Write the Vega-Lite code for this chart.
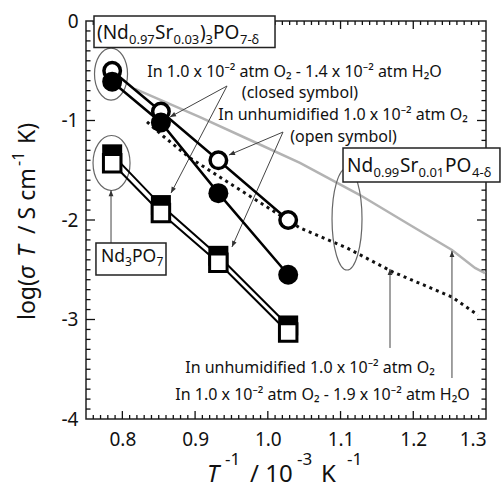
{
  "$schema": "https://vega.github.io/schema/vega-lite/v6.json",
  "width": 400,
  "height": 398,
  "autosize": "none",
  "padding": {"left": 86, "top": 21, "right": 15, "bottom": 69},
  "background": "white",
  "config": {
    "view": {"stroke": "#222", "strokeWidth": 1.5},
    "font": "Noto Sans",
    "text": {"font": "Noto Sans"}
  },
  "datasets": {
    "points": [
      {"x": 0.786, "y": -0.61, "compound": "(Nd0.97Sr0.03)3PO7-δ", "atmosphere": "humidified"},
      {"x": 0.853, "y": -1.02, "compound": "(Nd0.97Sr0.03)3PO7-δ", "atmosphere": "humidified"},
      {"x": 0.932, "y": -1.73, "compound": "(Nd0.97Sr0.03)3PO7-δ", "atmosphere": "humidified"},
      {"x": 1.028, "y": -2.55, "compound": "(Nd0.97Sr0.03)3PO7-δ", "atmosphere": "humidified"},
      {"x": 0.786, "y": -0.50, "compound": "(Nd0.97Sr0.03)3PO7-δ", "atmosphere": "unhumidified"},
      {"x": 0.853, "y": -0.91, "compound": "(Nd0.97Sr0.03)3PO7-δ", "atmosphere": "unhumidified"},
      {"x": 0.932, "y": -1.40, "compound": "(Nd0.97Sr0.03)3PO7-δ", "atmosphere": "unhumidified"},
      {"x": 1.028, "y": -2.00, "compound": "(Nd0.97Sr0.03)3PO7-δ", "atmosphere": "unhumidified"},
      {"x": 0.786, "y": -1.34, "compound": "Nd3PO7", "atmosphere": "humidified"},
      {"x": 0.853, "y": -1.85, "compound": "Nd3PO7", "atmosphere": "humidified"},
      {"x": 0.932, "y": -2.36, "compound": "Nd3PO7", "atmosphere": "humidified"},
      {"x": 1.028, "y": -3.06, "compound": "Nd3PO7", "atmosphere": "humidified"},
      {"x": 0.786, "y": -1.43, "compound": "Nd3PO7", "atmosphere": "unhumidified"},
      {"x": 0.853, "y": -1.93, "compound": "Nd3PO7", "atmosphere": "unhumidified"},
      {"x": 0.932, "y": -2.43, "compound": "Nd3PO7", "atmosphere": "unhumidified"},
      {"x": 1.028, "y": -3.13, "compound": "Nd3PO7", "atmosphere": "unhumidified"}
    ],
    "curves": [
      {"x": 0.8174, "y": -0.683, "atmosphere": "humidified"},
      {"x": 0.9067, "y": -0.965, "atmosphere": "humidified"},
      {"x": 0.9755, "y": -1.196, "atmosphere": "humidified"},
      {"x": 1.0442, "y": -1.427, "atmosphere": "humidified"},
      {"x": 1.1267, "y": -1.749, "atmosphere": "humidified"},
      {"x": 1.1955, "y": -2.050, "atmosphere": "humidified"},
      {"x": 1.2532, "y": -2.302, "atmosphere": "humidified"},
      {"x": 1.2849, "y": -2.482, "atmosphere": "humidified"},
      {"x": 1.2986, "y": -2.533, "atmosphere": "humidified"},
      {"x": 0.8339, "y": -1.015, "atmosphere": "unhumidified"},
      {"x": 0.8559, "y": -1.156, "atmosphere": "unhumidified"},
      {"x": 0.8930, "y": -1.377, "atmosphere": "unhumidified"},
      {"x": 0.9576, "y": -1.678, "atmosphere": "unhumidified"},
      {"x": 1.0442, "y": -2.080, "atmosphere": "unhumidified"},
      {"x": 1.1089, "y": -2.281, "atmosphere": "unhumidified"},
      {"x": 1.1721, "y": -2.523, "atmosphere": "unhumidified"},
      {"x": 1.2532, "y": -2.774, "atmosphere": "unhumidified"},
      {"x": 1.2890, "y": -2.955, "atmosphere": "unhumidified"}
    ],
    "vticks": [
      {"x": 0.8, "y": -4, "y2": -3.92}, {"x": 0.9, "y": -4, "y2": -3.92}, {"x": 1.0, "y": -4, "y2": -3.92}, {"x": 1.1, "y": -4, "y2": -3.92}, {"x": 1.2, "y": -4, "y2": -3.92},
      {"x": 0.8, "y": 0, "y2": -0.08}, {"x": 0.9, "y": 0, "y2": -0.08}, {"x": 1.0, "y": 0, "y2": -0.08}, {"x": 1.1, "y": 0, "y2": -0.08}, {"x": 1.2, "y": 0, "y2": -0.08},
      {"x": 0.76, "y": -4, "y2": -3.96}, {"x": 0.77, "y": -4, "y2": -3.96}, {"x": 0.78, "y": -4, "y2": -3.96}, {"x": 0.79, "y": -4, "y2": -3.96},
      {"x": 0.81, "y": -4, "y2": -3.96}, {"x": 0.82, "y": -4, "y2": -3.96}, {"x": 0.83, "y": -4, "y2": -3.96}, {"x": 0.84, "y": -4, "y2": -3.96}, {"x": 0.85, "y": -4, "y2": -3.96}, {"x": 0.86, "y": -4, "y2": -3.96}, {"x": 0.87, "y": -4, "y2": -3.96}, {"x": 0.88, "y": -4, "y2": -3.96}, {"x": 0.89, "y": -4, "y2": -3.96},
      {"x": 0.91, "y": -4, "y2": -3.96}, {"x": 0.92, "y": -4, "y2": -3.96}, {"x": 0.93, "y": -4, "y2": -3.96}, {"x": 0.94, "y": -4, "y2": -3.96}, {"x": 0.95, "y": -4, "y2": -3.96}, {"x": 0.96, "y": -4, "y2": -3.96}, {"x": 0.97, "y": -4, "y2": -3.96}, {"x": 0.98, "y": -4, "y2": -3.96}, {"x": 0.99, "y": -4, "y2": -3.96},
      {"x": 1.01, "y": -4, "y2": -3.96}, {"x": 1.02, "y": -4, "y2": -3.96}, {"x": 1.03, "y": -4, "y2": -3.96}, {"x": 1.04, "y": -4, "y2": -3.96}, {"x": 1.05, "y": -4, "y2": -3.96}, {"x": 1.06, "y": -4, "y2": -3.96}, {"x": 1.07, "y": -4, "y2": -3.96}, {"x": 1.08, "y": -4, "y2": -3.96}, {"x": 1.09, "y": -4, "y2": -3.96},
      {"x": 1.11, "y": -4, "y2": -3.96}, {"x": 1.12, "y": -4, "y2": -3.96}, {"x": 1.13, "y": -4, "y2": -3.96}, {"x": 1.14, "y": -4, "y2": -3.96}, {"x": 1.15, "y": -4, "y2": -3.96}, {"x": 1.16, "y": -4, "y2": -3.96}, {"x": 1.17, "y": -4, "y2": -3.96}, {"x": 1.18, "y": -4, "y2": -3.96}, {"x": 1.19, "y": -4, "y2": -3.96},
      {"x": 1.21, "y": -4, "y2": -3.96}, {"x": 1.22, "y": -4, "y2": -3.96}, {"x": 1.23, "y": -4, "y2": -3.96}, {"x": 1.24, "y": -4, "y2": -3.96}, {"x": 1.25, "y": -4, "y2": -3.96}, {"x": 1.26, "y": -4, "y2": -3.96}, {"x": 1.27, "y": -4, "y2": -3.96}, {"x": 1.28, "y": -4, "y2": -3.96}, {"x": 1.29, "y": -4, "y2": -3.96},
      {"x": 0.76, "y": 0, "y2": -0.04}, {"x": 0.77, "y": 0, "y2": -0.04}, {"x": 0.78, "y": 0, "y2": -0.04}, {"x": 0.79, "y": 0, "y2": -0.04},
      {"x": 0.81, "y": 0, "y2": -0.04}, {"x": 0.82, "y": 0, "y2": -0.04}, {"x": 0.83, "y": 0, "y2": -0.04}, {"x": 0.84, "y": 0, "y2": -0.04}, {"x": 0.85, "y": 0, "y2": -0.04}, {"x": 0.86, "y": 0, "y2": -0.04}, {"x": 0.87, "y": 0, "y2": -0.04}, {"x": 0.88, "y": 0, "y2": -0.04}, {"x": 0.89, "y": 0, "y2": -0.04},
      {"x": 0.91, "y": 0, "y2": -0.04}, {"x": 0.92, "y": 0, "y2": -0.04}, {"x": 0.93, "y": 0, "y2": -0.04}, {"x": 0.94, "y": 0, "y2": -0.04}, {"x": 0.95, "y": 0, "y2": -0.04}, {"x": 0.96, "y": 0, "y2": -0.04}, {"x": 0.97, "y": 0, "y2": -0.04}, {"x": 0.98, "y": 0, "y2": -0.04}, {"x": 0.99, "y": 0, "y2": -0.04},
      {"x": 1.01, "y": 0, "y2": -0.04}, {"x": 1.02, "y": 0, "y2": -0.04}, {"x": 1.03, "y": 0, "y2": -0.04}, {"x": 1.04, "y": 0, "y2": -0.04}, {"x": 1.05, "y": 0, "y2": -0.04}, {"x": 1.06, "y": 0, "y2": -0.04}, {"x": 1.07, "y": 0, "y2": -0.04}, {"x": 1.08, "y": 0, "y2": -0.04}, {"x": 1.09, "y": 0, "y2": -0.04},
      {"x": 1.11, "y": 0, "y2": -0.04}, {"x": 1.12, "y": 0, "y2": -0.04}, {"x": 1.13, "y": 0, "y2": -0.04}, {"x": 1.14, "y": 0, "y2": -0.04}, {"x": 1.15, "y": 0, "y2": -0.04}, {"x": 1.16, "y": 0, "y2": -0.04}, {"x": 1.17, "y": 0, "y2": -0.04}, {"x": 1.18, "y": 0, "y2": -0.04}, {"x": 1.19, "y": 0, "y2": -0.04},
      {"x": 1.21, "y": 0, "y2": -0.04}, {"x": 1.22, "y": 0, "y2": -0.04}, {"x": 1.23, "y": 0, "y2": -0.04}, {"x": 1.24, "y": 0, "y2": -0.04}, {"x": 1.25, "y": 0, "y2": -0.04}, {"x": 1.26, "y": 0, "y2": -0.04}, {"x": 1.27, "y": 0, "y2": -0.04}, {"x": 1.28, "y": 0, "y2": -0.04}, {"x": 1.29, "y": 0, "y2": -0.04}
    ],
    "hticks": [
      {"y": -3, "x": 0.75, "x2": 0.7624}, {"y": -2, "x": 0.75, "x2": 0.7624}, {"y": -1, "x": 0.75, "x2": 0.7624},
      {"y": -3, "x": 1.3, "x2": 1.2876}, {"y": -2, "x": 1.3, "x2": 1.2876}, {"y": -1, "x": 1.3, "x2": 1.2876},
      {"y": -3.9, "x": 0.75, "x2": 0.7562}, {"y": -3.8, "x": 0.75, "x2": 0.7562}, {"y": -3.7, "x": 0.75, "x2": 0.7562}, {"y": -3.6, "x": 0.75, "x2": 0.7562}, {"y": -3.5, "x": 0.75, "x2": 0.7562}, {"y": -3.4, "x": 0.75, "x2": 0.7562}, {"y": -3.3, "x": 0.75, "x2": 0.7562}, {"y": -3.2, "x": 0.75, "x2": 0.7562}, {"y": -3.1, "x": 0.75, "x2": 0.7562},
      {"y": -2.9, "x": 0.75, "x2": 0.7562}, {"y": -2.8, "x": 0.75, "x2": 0.7562}, {"y": -2.7, "x": 0.75, "x2": 0.7562}, {"y": -2.6, "x": 0.75, "x2": 0.7562}, {"y": -2.5, "x": 0.75, "x2": 0.7562}, {"y": -2.4, "x": 0.75, "x2": 0.7562}, {"y": -2.3, "x": 0.75, "x2": 0.7562}, {"y": -2.2, "x": 0.75, "x2": 0.7562}, {"y": -2.1, "x": 0.75, "x2": 0.7562},
      {"y": -1.9, "x": 0.75, "x2": 0.7562}, {"y": -1.8, "x": 0.75, "x2": 0.7562}, {"y": -1.7, "x": 0.75, "x2": 0.7562}, {"y": -1.6, "x": 0.75, "x2": 0.7562}, {"y": -1.5, "x": 0.75, "x2": 0.7562}, {"y": -1.4, "x": 0.75, "x2": 0.7562}, {"y": -1.3, "x": 0.75, "x2": 0.7562}, {"y": -1.2, "x": 0.75, "x2": 0.7562}, {"y": -1.1, "x": 0.75, "x2": 0.7562},
      {"y": -0.9, "x": 0.75, "x2": 0.7562}, {"y": -0.8, "x": 0.75, "x2": 0.7562}, {"y": -0.7, "x": 0.75, "x2": 0.7562}, {"y": -0.6, "x": 0.75, "x2": 0.7562}, {"y": -0.5, "x": 0.75, "x2": 0.7562}, {"y": -0.4, "x": 0.75, "x2": 0.7562}, {"y": -0.3, "x": 0.75, "x2": 0.7562}, {"y": -0.2, "x": 0.75, "x2": 0.7562}, {"y": -0.1, "x": 0.75, "x2": 0.7562},
      {"y": -3.9, "x": 1.3, "x2": 1.2938}, {"y": -3.8, "x": 1.3, "x2": 1.2938}, {"y": -3.7, "x": 1.3, "x2": 1.2938}, {"y": -3.6, "x": 1.3, "x2": 1.2938}, {"y": -3.5, "x": 1.3, "x2": 1.2938}, {"y": -3.4, "x": 1.3, "x2": 1.2938}, {"y": -3.3, "x": 1.3, "x2": 1.2938}, {"y": -3.2, "x": 1.3, "x2": 1.2938}, {"y": -3.1, "x": 1.3, "x2": 1.2938},
      {"y": -2.9, "x": 1.3, "x2": 1.2938}, {"y": -2.8, "x": 1.3, "x2": 1.2938}, {"y": -2.7, "x": 1.3, "x2": 1.2938}, {"y": -2.6, "x": 1.3, "x2": 1.2938}, {"y": -2.5, "x": 1.3, "x2": 1.2938}, {"y": -2.4, "x": 1.3, "x2": 1.2938}, {"y": -2.3, "x": 1.3, "x2": 1.2938}, {"y": -2.2, "x": 1.3, "x2": 1.2938}, {"y": -2.1, "x": 1.3, "x2": 1.2938},
      {"y": -1.9, "x": 1.3, "x2": 1.2938}, {"y": -1.8, "x": 1.3, "x2": 1.2938}, {"y": -1.7, "x": 1.3, "x2": 1.2938}, {"y": -1.6, "x": 1.3, "x2": 1.2938}, {"y": -1.5, "x": 1.3, "x2": 1.2938}, {"y": -1.4, "x": 1.3, "x2": 1.2938}, {"y": -1.3, "x": 1.3, "x2": 1.2938}, {"y": -1.2, "x": 1.3, "x2": 1.2938}, {"y": -1.1, "x": 1.3, "x2": 1.2938},
      {"y": -0.9, "x": 1.3, "x2": 1.2938}, {"y": -0.8, "x": 1.3, "x2": 1.2938}, {"y": -0.7, "x": 1.3, "x2": 1.2938}, {"y": -0.6, "x": 1.3, "x2": 1.2938}, {"y": -0.5, "x": 1.3, "x2": 1.2938}, {"y": -0.4, "x": 1.3, "x2": 1.2938}, {"y": -0.3, "x": 1.3, "x2": 1.2938}, {"y": -0.2, "x": 1.3, "x2": 1.2938}, {"y": -0.1, "x": 1.3, "x2": 1.2938}
    ],
    "ellipses": [
      {"name": "Sr-doped", "x": 0.7844, "y": -0.533},
      {"name": "Nd3PO7", "x": 0.7851, "y": -1.427},
      {"name": "Nd0.99Sr0.01PO4", "x": 1.1089, "y": -1.990}
    ],
    "arrows": [
      {"name": "closed-circle", "x": 0.9439, "y": -0.653, "x2": 0.8655, "y2": -0.965},
      {"name": "closed-square", "x": 0.9439, "y": -0.653, "x2": 0.8669, "y2": -1.729},
      {"name": "open-circle", "x": 1.0209, "y": -1.116, "x2": 0.9466, "y2": -1.347},
      {"name": "open-square", "x": 1.0209, "y": -1.116, "x2": 0.9507, "y2": -2.271},
      {"name": "Nd3PO7", "x": 0.7844, "y": -2.231, "x2": 0.7844, "y2": -1.700},
      {"name": "unhumidified", "x": 1.168, "y": -3.286, "x2": 1.168, "y2": -2.492},
      {"name": "humidified", "x": 1.2532, "y": -3.588, "x2": 1.2532, "y2": -2.312}
    ],
    "boxes": [
      {"name": "A", "x": 0.7610, "x2": 1.0099, "y": 0.0503, "y2": -0.266},
      {"name": "B", "x": 0.7637, "x2": 0.8600, "y": -2.231, "y2": -2.553},
      {"name": "C", "x": 1.1034, "x2": 1.3192, "y": -1.276, "y2": -1.618}
    ],
    "boxlabels": [
      {"name": "A", "x": 0.7651, "y": -0.181},
      {"name": "B", "x": 0.7706, "y": -2.422},
      {"name": "C", "x": 1.1089, "y": -1.5176},
      {"name": "xtitle", "x": 0.9164, "y": -4.633},
      {"name": "ytitle", "x": 0.6799, "y": -3.005}
    ],
    "notes": [
      {"label": "In 1.0 x 10⁻² atm O₂ - 1.4 x 10⁻² atm H₂O", "x": 1.0367, "y": -0.513},
      {"label": "(closed symbol)", "x": 1.0442, "y": -0.724},
      {"label": "In unhumidified 1.0 x 10⁻² atm O₂", "x": 1.1034, "y": -0.945},
      {"label": "(open symbol)", "x": 1.1041, "y": -1.166},
      {"label": "In unhumidified 1.0 x 10⁻² atm O₂", "x": 1.058, "y": -3.487},
      {"label": "In 1.0 x 10⁻² atm O₂ - 1.9 x 10⁻² atm H₂O", "x": 1.0752, "y": -3.759}
    ]
  },
  "resolve": {"axis": {"x": "independent", "y": "independent"}},
  "layer": [
    {
      "data": {"name": "curves"},
      "transform": [{"filter": "datum.atmosphere == 'humidified'"}],
      "mark": {"type": "line", "color": "#b3b3b3", "strokeWidth": 2.5},
      "encoding": {
        "x": {"field": "x", "type": "quantitative", "scale": {"domain": [0.75, 1.3], "nice": false, "zero": false},
          "axis": {"orient": "bottom", "values": [0.8, 0.9, 1.0, 1.1, 1.2, 1.3], "format": ".1f", "ticks": false, "domain": false, "grid": false, "labelFont": "Noto Sans", "labelFontSize": 19, "labelColor": "#111", "labelPadding": 11, "title": null}},
        "y": {"field": "y", "type": "quantitative", "scale": {"domain": [-4, 0], "nice": false, "zero": false},
          "axis": {"orient": "left", "values": [-4, -3, -2, -1, 0], "labelExpr": "datum.value < 0 ? '-' + abs(datum.value) : '0'", "ticks": false, "domain": false, "grid": false, "labelFont": "Noto Sans", "labelFontSize": 19, "labelColor": "#111", "labelPadding": 8, "title": null}}
      }
    },
    {
      "data": {"name": "curves"},
      "transform": [{"filter": "datum.atmosphere == 'unhumidified'"}],
      "mark": {"type": "line", "color": "#111", "strokeWidth": 3, "strokeDash": [3, 4]},
      "encoding": {
        "x": {"field": "x", "type": "quantitative", "scale": {"domain": [0.75, 1.3], "nice": false, "zero": false}, "axis": null},
        "y": {"field": "y", "type": "quantitative", "scale": {"domain": [-4, 0], "nice": false, "zero": false}, "axis": null}
      }
    },
    {
      "data": {"name": "vticks"},
      "mark": {"type": "rule", "color": "#111", "strokeWidth": 1.3},
      "encoding": {
        "x": {"field": "x", "type": "quantitative", "scale": {"domain": [0.75, 1.3], "nice": false, "zero": false}, "axis": null},
        "y": {"field": "y", "type": "quantitative", "scale": {"domain": [-4, 0], "nice": false, "zero": false}, "axis": null},
        "y2": {"field": "y2"}
      }
    },
    {
      "data": {"name": "hticks"},
      "mark": {"type": "rule", "color": "#111", "strokeWidth": 1.3},
      "encoding": {
        "x": {"field": "x", "type": "quantitative", "scale": {"domain": [0.75, 1.3], "nice": false, "zero": false}, "axis": null},
        "x2": {"field": "x2"},
        "y": {"field": "y", "type": "quantitative", "scale": {"domain": [-4, 0], "nice": false, "zero": false}, "axis": null}
      }
    },
    {
      "data": {"name": "ellipses"},
      "transform": [{"filter": "datum.name == 'Sr-doped'"}],
      "mark": {"type": "point", "shape": "M-0.635,0A0.635,1,0,1,0,0.635,0A0.635,1,0,1,0,-0.635,0Z", "size": 2704, "filled": false, "stroke": "#666", "strokeWidth": 1.2, "opacity": 1},
      "encoding": {
        "x": {"field": "x", "type": "quantitative", "scale": {"domain": [0.75, 1.3], "nice": false, "zero": false}, "axis": null},
        "y": {"field": "y", "type": "quantitative", "scale": {"domain": [-4, 0], "nice": false, "zero": false}, "axis": null}
      }
    },
    {
      "data": {"name": "ellipses"},
      "transform": [{"filter": "datum.name == 'Nd3PO7'"}],
      "mark": {"type": "point", "shape": "M-0.673,0A0.673,1,0,1,0,0.673,0A0.673,1,0,1,0,-0.673,0Z", "size": 3025, "filled": false, "stroke": "#666", "strokeWidth": 1.2, "opacity": 1},
      "encoding": {
        "x": {"field": "x", "type": "quantitative", "scale": {"domain": [0.75, 1.3], "nice": false, "zero": false}, "axis": null},
        "y": {"field": "y", "type": "quantitative", "scale": {"domain": [-4, 0], "nice": false, "zero": false}, "axis": null}
      }
    },
    {
      "data": {"name": "ellipses"},
      "transform": [{"filter": "datum.name == 'Nd0.99Sr0.01PO4'"}],
      "mark": {"type": "point", "shape": "M-0.294,0A0.294,1,0,1,0,0.294,0A0.294,1,0,1,0,-0.294,0Z", "size": 10404, "filled": false, "stroke": "#666", "strokeWidth": 1.2, "opacity": 1},
      "encoding": {
        "x": {"field": "x", "type": "quantitative", "scale": {"domain": [0.75, 1.3], "nice": false, "zero": false}, "axis": null},
        "y": {"field": "y", "type": "quantitative", "scale": {"domain": [-4, 0], "nice": false, "zero": false}, "axis": null}
      }
    },
    {
      "data": {"name": "arrows"},
      "mark": {"type": "rule", "color": "#444", "strokeWidth": 1},
      "encoding": {
        "x": {"field": "x", "type": "quantitative", "scale": {"domain": [0.75, 1.3], "nice": false, "zero": false}, "axis": null},
        "y": {"field": "y", "type": "quantitative", "scale": {"domain": [-4, 0], "nice": false, "zero": false}, "axis": null},
        "x2": {"field": "x2"},
        "y2": {"field": "y2"}
      }
    },
    {
      "data": {"name": "arrows"},
      "transform": [{"filter": "datum.name == 'Nd3PO7' || datum.name == 'unhumidified' || datum.name == 'humidified'"}],
      "mark": {"type": "point", "shape": "M0,0L-0.4,1L0.4,1Z", "size": 144, "filled": true, "color": "#333", "opacity": 1, "angle": 0},
      "encoding": {
        "x": {"field": "x2", "type": "quantitative", "scale": {"domain": [0.75, 1.3], "nice": false, "zero": false}, "axis": null},
        "y": {"field": "y2", "type": "quantitative", "scale": {"domain": [-4, 0], "nice": false, "zero": false}, "axis": null}
      }
    },
    {
      "data": {"name": "arrows"},
      "transform": [{"filter": "datum.name == 'closed-circle'"}],
      "mark": {"type": "point", "shape": "M0,0L-0.4,1L0.4,1Z", "size": 144, "filled": true, "color": "#333", "opacity": 1, "angle": 241.5},
      "encoding": {
        "x": {"field": "x2", "type": "quantitative", "scale": {"domain": [0.75, 1.3], "nice": false, "zero": false}, "axis": null},
        "y": {"field": "y2", "type": "quantitative", "scale": {"domain": [-4, 0], "nice": false, "zero": false}, "axis": null}
      }
    },
    {
      "data": {"name": "arrows"},
      "transform": [{"filter": "datum.name == 'closed-square'"}],
      "mark": {"type": "point", "shape": "M0,0L-0.4,1L0.4,1Z", "size": 144, "filled": true, "color": "#333", "opacity": 1, "angle": 207.6},
      "encoding": {
        "x": {"field": "x2", "type": "quantitative", "scale": {"domain": [0.75, 1.3], "nice": false, "zero": false}, "axis": null},
        "y": {"field": "y2", "type": "quantitative", "scale": {"domain": [-4, 0], "nice": false, "zero": false}, "axis": null}
      }
    },
    {
      "data": {"name": "arrows"},
      "transform": [{"filter": "datum.name == 'open-circle'"}],
      "mark": {"type": "point", "shape": "M0,0L-0.4,1L0.4,1Z", "size": 144, "filled": true, "color": "#333", "opacity": 1, "angle": 246.9},
      "encoding": {
        "x": {"field": "x2", "type": "quantitative", "scale": {"domain": [0.75, 1.3], "nice": false, "zero": false}, "axis": null},
        "y": {"field": "y2", "type": "quantitative", "scale": {"domain": [-4, 0], "nice": false, "zero": false}, "axis": null}
      }
    },
    {
      "data": {"name": "arrows"},
      "transform": [{"filter": "datum.name == 'open-square'"}],
      "mark": {"type": "point", "shape": "M0,0L-0.4,1L0.4,1Z", "size": 144, "filled": true, "color": "#333", "opacity": 1, "angle": 203.9},
      "encoding": {
        "x": {"field": "x2", "type": "quantitative", "scale": {"domain": [0.75, 1.3], "nice": false, "zero": false}, "axis": null},
        "y": {"field": "y2", "type": "quantitative", "scale": {"domain": [-4, 0], "nice": false, "zero": false}, "axis": null}
      }
    },
    {
      "data": {"name": "points"},
      "transform": [{"filter": "datum.compound == 'Nd3PO7'"}],
      "mark": {"type": "line", "color": "#000", "strokeWidth": 2},
      "encoding": {
        "x": {"field": "x", "type": "quantitative", "scale": {"domain": [0.75, 1.3], "nice": false, "zero": false}, "axis": null},
        "y": {"field": "y", "type": "quantitative", "scale": {"domain": [-4, 0], "nice": false, "zero": false}, "axis": null},
        "detail": {"field": "atmosphere"}
      }
    },
    {
      "data": {"name": "points"},
      "transform": [{"filter": "datum.compound != 'Nd3PO7'"}],
      "mark": {"type": "line", "color": "#000", "strokeWidth": 2.5},
      "encoding": {
        "x": {"field": "x", "type": "quantitative", "scale": {"domain": [0.75, 1.3], "nice": false, "zero": false}, "axis": null},
        "y": {"field": "y", "type": "quantitative", "scale": {"domain": [-4, 0], "nice": false, "zero": false}, "axis": null},
        "detail": {"field": "atmosphere"}
      }
    },
    {
      "data": {"name": "points"},
      "transform": [{"filter": "datum.compound == 'Nd3PO7' && datum.atmosphere == 'humidified'"}],
      "mark": {"type": "point", "shape": "square", "filled": true, "color": "#000", "size": 400, "opacity": 1},
      "encoding": {
        "x": {"field": "x", "type": "quantitative", "scale": {"domain": [0.75, 1.3], "nice": false, "zero": false}, "axis": null},
        "y": {"field": "y", "type": "quantitative", "scale": {"domain": [-4, 0], "nice": false, "zero": false}, "axis": null}
      }
    },
    {
      "data": {"name": "points"},
      "transform": [{"filter": "datum.compound == 'Nd3PO7' && datum.atmosphere == 'unhumidified'"}],
      "mark": {"type": "point", "shape": "square", "filled": true, "fill": "white", "stroke": "#000", "strokeWidth": 3, "size": 306, "opacity": 1},
      "encoding": {
        "x": {"field": "x", "type": "quantitative", "scale": {"domain": [0.75, 1.3], "nice": false, "zero": false}, "axis": null},
        "y": {"field": "y", "type": "quantitative", "scale": {"domain": [-4, 0], "nice": false, "zero": false}, "axis": null}
      }
    },
    {
      "data": {"name": "points"},
      "transform": [{"filter": "datum.compound != 'Nd3PO7' && datum.atmosphere == 'unhumidified'"}],
      "mark": {"type": "point", "shape": "circle", "filled": true, "fill": "white", "stroke": "#000", "strokeWidth": 3.5, "size": 272, "opacity": 1},
      "encoding": {
        "x": {"field": "x", "type": "quantitative", "scale": {"domain": [0.75, 1.3], "nice": false, "zero": false}, "axis": null},
        "y": {"field": "y", "type": "quantitative", "scale": {"domain": [-4, 0], "nice": false, "zero": false}, "axis": null}
      }
    },
    {
      "data": {"name": "points"},
      "transform": [{"filter": "datum.compound != 'Nd3PO7' && datum.atmosphere == 'humidified'"}],
      "mark": {"type": "point", "shape": "circle", "filled": true, "color": "#000", "size": 400, "opacity": 1},
      "encoding": {
        "x": {"field": "x", "type": "quantitative", "scale": {"domain": [0.75, 1.3], "nice": false, "zero": false}, "axis": null},
        "y": {"field": "y", "type": "quantitative", "scale": {"domain": [-4, 0], "nice": false, "zero": false}, "axis": null}
      }
    },
    {
      "data": {"name": "boxes"},
      "mark": {"type": "rect", "fill": "white", "stroke": "#222", "strokeWidth": 1.5},
      "encoding": {
        "x": {"field": "x", "type": "quantitative", "scale": {"domain": [0.75, 1.3], "nice": false, "zero": false}, "axis": null},
        "y": {"field": "y", "type": "quantitative", "scale": {"domain": [-4, 0], "nice": false, "zero": false}, "axis": null},
        "x2": {"field": "x2"},
        "y2": {"field": "y2"}
      }
    },
    {"data": {"name": "boxlabels"}, "transform": [{"filter": "datum.name == 'A'"}], "mark": {"type": "text", "text": "(Nd", "dx": 0, "dy": 0, "align": "left", "baseline": "alphabetic", "fontSize": 19, "color": "#111"}, "encoding": {"x": {"field": "x", "type": "quantitative", "scale": {"domain": [0.75, 1.3], "nice": false, "zero": false}, "axis": null}, "y": {"field": "y", "type": "quantitative", "scale": {"domain": [-4, 0], "nice": false, "zero": false}, "axis": null}}},
    {"data": {"name": "boxlabels"}, "transform": [{"filter": "datum.name == 'A'"}], "mark": {"type": "text", "text": "0.97", "dx": 32, "dy": 4.5, "align": "left", "baseline": "alphabetic", "fontSize": 13, "color": "#111"}, "encoding": {"x": {"field": "x", "type": "quantitative", "scale": {"domain": [0.75, 1.3], "nice": false, "zero": false}, "axis": null}, "y": {"field": "y", "type": "quantitative", "scale": {"domain": [-4, 0], "nice": false, "zero": false}, "axis": null}}},
    {"data": {"name": "boxlabels"}, "transform": [{"filter": "datum.name == 'A'"}], "mark": {"type": "text", "text": "Sr", "dx": 58, "dy": 0, "align": "left", "baseline": "alphabetic", "fontSize": 19, "color": "#111"}, "encoding": {"x": {"field": "x", "type": "quantitative", "scale": {"domain": [0.75, 1.3], "nice": false, "zero": false}, "axis": null}, "y": {"field": "y", "type": "quantitative", "scale": {"domain": [-4, 0], "nice": false, "zero": false}, "axis": null}}},
    {"data": {"name": "boxlabels"}, "transform": [{"filter": "datum.name == 'A'"}], "mark": {"type": "text", "text": "0.03", "dx": 76.5, "dy": 4.5, "align": "left", "baseline": "alphabetic", "fontSize": 13, "color": "#111"}, "encoding": {"x": {"field": "x", "type": "quantitative", "scale": {"domain": [0.75, 1.3], "nice": false, "zero": false}, "axis": null}, "y": {"field": "y", "type": "quantitative", "scale": {"domain": [-4, 0], "nice": false, "zero": false}, "axis": null}}},
    {"data": {"name": "boxlabels"}, "transform": [{"filter": "datum.name == 'A'"}], "mark": {"type": "text", "text": ")", "dx": 103, "dy": 0, "align": "left", "baseline": "alphabetic", "fontSize": 19, "color": "#111"}, "encoding": {"x": {"field": "x", "type": "quantitative", "scale": {"domain": [0.75, 1.3], "nice": false, "zero": false}, "axis": null}, "y": {"field": "y", "type": "quantitative", "scale": {"domain": [-4, 0], "nice": false, "zero": false}, "axis": null}}},
    {"data": {"name": "boxlabels"}, "transform": [{"filter": "datum.name == 'A'"}], "mark": {"type": "text", "text": "3", "dx": 108.5, "dy": 4.5, "align": "left", "baseline": "alphabetic", "fontSize": 13, "color": "#111"}, "encoding": {"x": {"field": "x", "type": "quantitative", "scale": {"domain": [0.75, 1.3], "nice": false, "zero": false}, "axis": null}, "y": {"field": "y", "type": "quantitative", "scale": {"domain": [-4, 0], "nice": false, "zero": false}, "axis": null}}},
    {"data": {"name": "boxlabels"}, "transform": [{"filter": "datum.name == 'A'"}], "mark": {"type": "text", "text": "PO", "dx": 116, "dy": 0, "align": "left", "baseline": "alphabetic", "fontSize": 19, "color": "#111"}, "encoding": {"x": {"field": "x", "type": "quantitative", "scale": {"domain": [0.75, 1.3], "nice": false, "zero": false}, "axis": null}, "y": {"field": "y", "type": "quantitative", "scale": {"domain": [-4, 0], "nice": false, "zero": false}, "axis": null}}},
    {"data": {"name": "boxlabels"}, "transform": [{"filter": "datum.name == 'A'"}], "mark": {"type": "text", "text": "7-δ", "dx": 143, "dy": 4.5, "align": "left", "baseline": "alphabetic", "fontSize": 13, "color": "#111"}, "encoding": {"x": {"field": "x", "type": "quantitative", "scale": {"domain": [0.75, 1.3], "nice": false, "zero": false}, "axis": null}, "y": {"field": "y", "type": "quantitative", "scale": {"domain": [-4, 0], "nice": false, "zero": false}, "axis": null}}},
    {"data": {"name": "boxlabels"}, "transform": [{"filter": "datum.name == 'B'"}], "mark": {"type": "text", "text": "Nd", "dx": 0, "dy": 0, "align": "left", "baseline": "alphabetic", "fontSize": 17.5, "color": "#111"}, "encoding": {"x": {"field": "x", "type": "quantitative", "scale": {"domain": [0.75, 1.3], "nice": false, "zero": false}, "axis": null}, "y": {"field": "y", "type": "quantitative", "scale": {"domain": [-4, 0], "nice": false, "zero": false}, "axis": null}}},
    {"data": {"name": "boxlabels"}, "transform": [{"filter": "datum.name == 'B'"}], "mark": {"type": "text", "text": "3", "dx": 24, "dy": 4.5, "align": "left", "baseline": "alphabetic", "fontSize": 12, "color": "#111"}, "encoding": {"x": {"field": "x", "type": "quantitative", "scale": {"domain": [0.75, 1.3], "nice": false, "zero": false}, "axis": null}, "y": {"field": "y", "type": "quantitative", "scale": {"domain": [-4, 0], "nice": false, "zero": false}, "axis": null}}},
    {"data": {"name": "boxlabels"}, "transform": [{"filter": "datum.name == 'B'"}], "mark": {"type": "text", "text": "PO", "dx": 31, "dy": 0, "align": "left", "baseline": "alphabetic", "fontSize": 17.5, "color": "#111"}, "encoding": {"x": {"field": "x", "type": "quantitative", "scale": {"domain": [0.75, 1.3], "nice": false, "zero": false}, "axis": null}, "y": {"field": "y", "type": "quantitative", "scale": {"domain": [-4, 0], "nice": false, "zero": false}, "axis": null}}},
    {"data": {"name": "boxlabels"}, "transform": [{"filter": "datum.name == 'B'"}], "mark": {"type": "text", "text": "7", "dx": 55.5, "dy": 4.5, "align": "left", "baseline": "alphabetic", "fontSize": 12, "color": "#111"}, "encoding": {"x": {"field": "x", "type": "quantitative", "scale": {"domain": [0.75, 1.3], "nice": false, "zero": false}, "axis": null}, "y": {"field": "y", "type": "quantitative", "scale": {"domain": [-4, 0], "nice": false, "zero": false}, "axis": null}}},
    {"data": {"name": "boxlabels"}, "transform": [{"filter": "datum.name == 'C'"}], "mark": {"type": "text", "text": "Nd", "dx": 0, "dy": 0, "align": "left", "baseline": "alphabetic", "fontSize": 19, "color": "#111"}, "encoding": {"x": {"field": "x", "type": "quantitative", "scale": {"domain": [0.75, 1.3], "nice": false, "zero": false}, "axis": null}, "y": {"field": "y", "type": "quantitative", "scale": {"domain": [-4, 0], "nice": false, "zero": false}, "axis": null}}},
    {"data": {"name": "boxlabels"}, "transform": [{"filter": "datum.name == 'C'"}], "mark": {"type": "text", "text": "0.99", "dx": 26.5, "dy": 4.5, "align": "left", "baseline": "alphabetic", "fontSize": 13, "color": "#111"}, "encoding": {"x": {"field": "x", "type": "quantitative", "scale": {"domain": [0.75, 1.3], "nice": false, "zero": false}, "axis": null}, "y": {"field": "y", "type": "quantitative", "scale": {"domain": [-4, 0], "nice": false, "zero": false}, "axis": null}}},
    {"data": {"name": "boxlabels"}, "transform": [{"filter": "datum.name == 'C'"}], "mark": {"type": "text", "text": "Sr", "dx": 53, "dy": 0, "align": "left", "baseline": "alphabetic", "fontSize": 19, "color": "#111"}, "encoding": {"x": {"field": "x", "type": "quantitative", "scale": {"domain": [0.75, 1.3], "nice": false, "zero": false}, "axis": null}, "y": {"field": "y", "type": "quantitative", "scale": {"domain": [-4, 0], "nice": false, "zero": false}, "axis": null}}},
    {"data": {"name": "boxlabels"}, "transform": [{"filter": "datum.name == 'C'"}], "mark": {"type": "text", "text": "0.01", "dx": 71.5, "dy": 4.5, "align": "left", "baseline": "alphabetic", "fontSize": 13, "color": "#111"}, "encoding": {"x": {"field": "x", "type": "quantitative", "scale": {"domain": [0.75, 1.3], "nice": false, "zero": false}, "axis": null}, "y": {"field": "y", "type": "quantitative", "scale": {"domain": [-4, 0], "nice": false, "zero": false}, "axis": null}}},
    {"data": {"name": "boxlabels"}, "transform": [{"filter": "datum.name == 'C'"}], "mark": {"type": "text", "text": "PO", "dx": 98, "dy": 0, "align": "left", "baseline": "alphabetic", "fontSize": 19, "color": "#111"}, "encoding": {"x": {"field": "x", "type": "quantitative", "scale": {"domain": [0.75, 1.3], "nice": false, "zero": false}, "axis": null}, "y": {"field": "y", "type": "quantitative", "scale": {"domain": [-4, 0], "nice": false, "zero": false}, "axis": null}}},
    {"data": {"name": "boxlabels"}, "transform": [{"filter": "datum.name == 'C'"}], "mark": {"type": "text", "text": "4-δ", "dx": 125, "dy": 4.5, "align": "left", "baseline": "alphabetic", "fontSize": 13, "color": "#111"}, "encoding": {"x": {"field": "x", "type": "quantitative", "scale": {"domain": [0.75, 1.3], "nice": false, "zero": false}, "axis": null}, "y": {"field": "y", "type": "quantitative", "scale": {"domain": [-4, 0], "nice": false, "zero": false}, "axis": null}}},
    {"data": {"name": "boxlabels"}, "transform": [{"filter": "datum.name == 'xtitle'"}], "mark": {"type": "text", "text": "T", "dx": 0, "dy": 0, "align": "left", "baseline": "alphabetic", "fontSize": 24, "fontStyle": "italic", "color": "#111"}, "encoding": {"x": {"field": "x", "type": "quantitative", "scale": {"domain": [0.75, 1.3], "nice": false, "zero": false}, "axis": null}, "y": {"field": "y", "type": "quantitative", "scale": {"domain": [-4, 0], "nice": false, "zero": false}, "axis": null}}},
    {"data": {"name": "boxlabels"}, "transform": [{"filter": "datum.name == 'xtitle'"}], "mark": {"type": "text", "text": "-1", "dx": 18, "dy": -17, "align": "left", "baseline": "alphabetic", "fontSize": 17, "color": "#111"}, "encoding": {"x": {"field": "x", "type": "quantitative", "scale": {"domain": [0.75, 1.3], "nice": false, "zero": false}, "axis": null}, "y": {"field": "y", "type": "quantitative", "scale": {"domain": [-4, 0], "nice": false, "zero": false}, "axis": null}}},
    {"data": {"name": "boxlabels"}, "transform": [{"filter": "datum.name == 'xtitle'"}], "mark": {"type": "text", "text": "/ 10", "dx": 43, "dy": 0, "align": "left", "baseline": "alphabetic", "fontSize": 24, "color": "#111"}, "encoding": {"x": {"field": "x", "type": "quantitative", "scale": {"domain": [0.75, 1.3], "nice": false, "zero": false}, "axis": null}, "y": {"field": "y", "type": "quantitative", "scale": {"domain": [-4, 0], "nice": false, "zero": false}, "axis": null}}},
    {"data": {"name": "boxlabels"}, "transform": [{"filter": "datum.name == 'xtitle'"}], "mark": {"type": "text", "text": "-3", "dx": 90, "dy": -17, "align": "left", "baseline": "alphabetic", "fontSize": 17, "color": "#111"}, "encoding": {"x": {"field": "x", "type": "quantitative", "scale": {"domain": [0.75, 1.3], "nice": false, "zero": false}, "axis": null}, "y": {"field": "y", "type": "quantitative", "scale": {"domain": [-4, 0], "nice": false, "zero": false}, "axis": null}}},
    {"data": {"name": "boxlabels"}, "transform": [{"filter": "datum.name == 'xtitle'"}], "mark": {"type": "text", "text": "K", "dx": 114, "dy": 0, "align": "left", "baseline": "alphabetic", "fontSize": 24, "color": "#111"}, "encoding": {"x": {"field": "x", "type": "quantitative", "scale": {"domain": [0.75, 1.3], "nice": false, "zero": false}, "axis": null}, "y": {"field": "y", "type": "quantitative", "scale": {"domain": [-4, 0], "nice": false, "zero": false}, "axis": null}}},
    {"data": {"name": "boxlabels"}, "transform": [{"filter": "datum.name == 'xtitle'"}], "mark": {"type": "text", "text": "-1", "dx": 140, "dy": -17, "align": "left", "baseline": "alphabetic", "fontSize": 17, "color": "#111"}, "encoding": {"x": {"field": "x", "type": "quantitative", "scale": {"domain": [0.75, 1.3], "nice": false, "zero": false}, "axis": null}, "y": {"field": "y", "type": "quantitative", "scale": {"domain": [-4, 0], "nice": false, "zero": false}, "axis": null}}},
    {"data": {"name": "boxlabels"}, "transform": [{"filter": "datum.name == 'ytitle'"}], "mark": {"type": "text", "text": "log(", "angle": -90, "dx": 0, "dy": 0, "align": "left", "baseline": "alphabetic", "fontSize": 23, "color": "#111"}, "encoding": {"x": {"field": "x", "type": "quantitative", "scale": {"domain": [0.75, 1.3], "nice": false, "zero": false}, "axis": null}, "y": {"field": "y", "type": "quantitative", "scale": {"domain": [-4, 0], "nice": false, "zero": false}, "axis": null}}},
    {"data": {"name": "boxlabels"}, "transform": [{"filter": "datum.name == 'ytitle'"}], "mark": {"type": "text", "text": "σ", "angle": -90, "dx": 41, "dy": 0, "align": "left", "baseline": "alphabetic", "fontSize": 23, "fontStyle": "italic", "color": "#111"}, "encoding": {"x": {"field": "x", "type": "quantitative", "scale": {"domain": [0.75, 1.3], "nice": false, "zero": false}, "axis": null}, "y": {"field": "y", "type": "quantitative", "scale": {"domain": [-4, 0], "nice": false, "zero": false}, "axis": null}}},
    {"data": {"name": "boxlabels"}, "transform": [{"filter": "datum.name == 'ytitle'"}], "mark": {"type": "text", "text": "T", "angle": -90, "dx": 63, "dy": 0, "align": "left", "baseline": "alphabetic", "fontSize": 23, "fontStyle": "italic", "color": "#111"}, "encoding": {"x": {"field": "x", "type": "quantitative", "scale": {"domain": [0.75, 1.3], "nice": false, "zero": false}, "axis": null}, "y": {"field": "y", "type": "quantitative", "scale": {"domain": [-4, 0], "nice": false, "zero": false}, "axis": null}}},
    {"data": {"name": "boxlabels"}, "transform": [{"filter": "datum.name == 'ytitle'"}], "mark": {"type": "text", "text": "/ S cm", "angle": -90, "dx": 86, "dy": 0, "align": "left", "baseline": "alphabetic", "fontSize": 23, "color": "#111"}, "encoding": {"x": {"field": "x", "type": "quantitative", "scale": {"domain": [0.75, 1.3], "nice": false, "zero": false}, "axis": null}, "y": {"field": "y", "type": "quantitative", "scale": {"domain": [-4, 0], "nice": false, "zero": false}, "axis": null}}},
    {"data": {"name": "boxlabels"}, "transform": [{"filter": "datum.name == 'ytitle'"}], "mark": {"type": "text", "text": "-1", "angle": -90, "dx": 154, "dy": -11, "align": "left", "baseline": "alphabetic", "fontSize": 16, "color": "#111"}, "encoding": {"x": {"field": "x", "type": "quantitative", "scale": {"domain": [0.75, 1.3], "nice": false, "zero": false}, "axis": null}, "y": {"field": "y", "type": "quantitative", "scale": {"domain": [-4, 0], "nice": false, "zero": false}, "axis": null}}},
    {"data": {"name": "boxlabels"}, "transform": [{"filter": "datum.name == 'ytitle'"}], "mark": {"type": "text", "text": "K)", "angle": -90, "dx": 176, "dy": 0, "align": "left", "baseline": "alphabetic", "fontSize": 23, "color": "#111"}, "encoding": {"x": {"field": "x", "type": "quantitative", "scale": {"domain": [0.75, 1.3], "nice": false, "zero": false}, "axis": null}, "y": {"field": "y", "type": "quantitative", "scale": {"domain": [-4, 0], "nice": false, "zero": false}, "axis": null}}},
    {
      "data": {"name": "notes"},
      "mark": {"type": "text", "fontSize": 16, "color": "#111", "align": "center", "baseline": "middle"},
      "encoding": {
        "x": {"field": "x", "type": "quantitative", "scale": {"domain": [0.75, 1.3], "nice": false, "zero": false}, "axis": null},
        "y": {"field": "y", "type": "quantitative", "scale": {"domain": [-4, 0], "nice": false, "zero": false}, "axis": null},
        "text": {"field": "label"}
      }
    }
  ]
}
